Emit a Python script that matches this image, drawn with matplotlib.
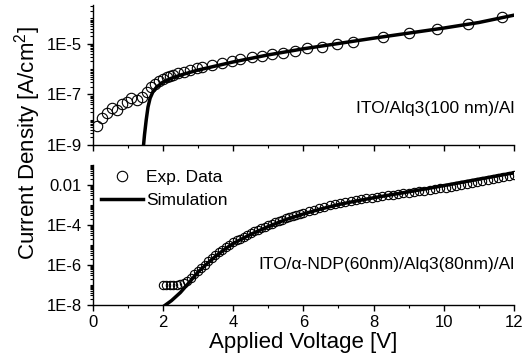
import numpy as np
import matplotlib
matplotlib.use("Agg")
import matplotlib.pyplot as plt
from matplotlib.ticker import LogLocator, NullFormatter, MultipleLocator

plt.rcParams['font.family'] = ['Liberation Sans', 'DejaVu Sans']
plt.rcParams['mathtext.fontset'] = 'custom'
plt.rcParams['mathtext.rm'] = 'Liberation Sans'

# all current densities stored as log10(J [A/cm2])

# top panel: ITO/Alq3(100 nm)/Al
top_exp_v = [0.12, 0.26, 0.40, 0.55, 0.69, 0.83, 0.97, 1.10, 1.26, 1.40,
             1.54, 1.66, 1.78, 1.90, 2.02, 2.11, 2.21, 2.30, 2.44, 2.61,
             2.78, 2.97, 3.13, 3.39, 3.68, 3.96, 4.20, 4.53, 4.82, 5.10,
             5.43, 5.77, 6.10, 6.53, 6.95, 7.43, 8.28, 9.02, 9.82, 10.70, 11.65]
top_exp_logj = [-8.25, -7.93, -7.74, -7.54, -7.62, -7.38, -7.30, -7.14, -7.22, -7.10,
                -6.91, -6.71, -6.59, -6.47, -6.39, -6.31, -6.27, -6.23, -6.15, -6.11,
                -6.04, -5.96, -5.90, -5.82, -5.75, -5.67, -5.61, -5.53, -5.47, -5.40,
                -5.35, -5.27, -5.18, -5.13, -5.00, -4.92, -4.72, -4.58, -4.43, -4.22, -3.95]
top_sim_v = [1.44, 1.48, 1.53, 1.58, 1.64, 1.72, 1.82, 2.0, 2.25, 2.5, 3.0, 3.5,
             4.0, 4.5, 5.0, 5.5, 6.0, 7.0, 8.0, 9.0, 10.0, 11.0, 12.0]
top_sim_logj = [-9.2, -8.6, -8.0, -7.5, -7.15, -6.90, -6.72, -6.52, -6.36, -6.24, -6.04, -5.88,
                -5.72, -5.58, -5.44, -5.32, -5.20, -4.99, -4.78, -4.58, -4.38, -4.16, -3.87]

# bottom panel: ITO/a-NDP(60nm)/Alq3(80nm)/Al
bot_exp_v = [2.0, 2.1, 2.2, 2.3, 2.4, 2.5, 2.6, 2.7, 2.8, 2.9,
             3.0, 3.1, 3.2, 3.3, 3.4, 3.5, 3.6, 3.7, 3.8, 3.9,
             4.0, 4.1, 4.2, 4.3, 4.4, 4.5, 4.6, 4.7, 4.8, 4.9,
             5.0, 5.1, 5.2, 5.3, 5.4, 5.5, 5.6, 5.7, 5.8, 5.9, 6.0,
             6.15, 6.3, 6.45, 6.6, 6.75, 6.9, 7.05, 7.2, 7.35, 7.5,
             7.65, 7.8, 7.95, 8.1, 8.25, 8.4, 8.55, 8.7, 8.85, 9.0,
             9.15, 9.3, 9.45, 9.6, 9.75, 9.9, 10.05, 10.2, 10.35, 10.5,
             10.65, 10.8, 10.95, 11.1, 11.25, 11.4, 11.55, 11.7, 11.85, 12.0]
bot_exp_logj = [-7.00, -7.00, -7.00, -6.99, -6.98, -6.95, -6.90, -6.80, -6.65, -6.47,
                -6.30, -6.14, -5.98, -5.82, -5.66, -5.50, -5.37, -5.24, -5.12, -4.99,
                -4.86, -4.77, -4.68, -4.58, -4.49, -4.40, -4.32, -4.24, -4.17, -4.09,
                -4.01, -3.94, -3.87, -3.80, -3.73, -3.66, -3.60, -3.55, -3.49, -3.44, -3.38,
                -3.31, -3.23, -3.16, -3.09, -3.02, -2.96, -2.90, -2.85, -2.80, -2.76,
                -2.72, -2.67, -2.63, -2.59, -2.55, -2.51, -2.48, -2.45, -2.42, -2.39,
                -2.36, -2.32, -2.28, -2.25, -2.21, -2.17, -2.13, -2.09, -2.04, -1.99,
                -1.94, -1.89, -1.85, -1.80, -1.75, -1.70, -1.65, -1.61, -1.56, -1.51]
bot_sim_v = [1.95, 2.0, 2.25, 2.5, 2.75, 3.0, 3.25, 3.5, 3.75, 4.0, 4.5, 5.0, 5.5,
             6.0, 6.5, 7.0, 7.5, 8.0, 8.5, 9.0, 9.5, 10.0, 10.5, 11.0, 11.5, 12.0]
bot_sim_logj = [-8.2, -8.10, -7.78, -7.38, -6.88, -6.36, -5.95, -5.57, -5.23, -4.93, -4.47, -4.08, -3.73,
                -3.45, -3.20, -2.98, -2.80, -2.64, -2.49, -2.34, -2.19, -2.03, -1.87, -1.71, -1.55, -1.39]

top_ticks = [1e-9, 1e-7, 1e-5]
top_labels = ["1E-9", "1E-7", "1E-5"]
bot_ticks = [1e-8, 1e-6, 1e-4, 1e-2]
bot_labels = ["1E-8", "1E-6", "1E-4", "0.01"]

fig = plt.figure(figsize=(5.31, 3.62), dpi=100)
ax1 = fig.add_axes([0.1742, 0.5994, 0.7938, 0.3867])
ax2 = fig.add_axes([0.1742, 0.1575, 0.7938, 0.3867])

ax1.plot(top_exp_v, 10 ** np.array(top_exp_logj), "o", ms=7.5, mfc="none", mec="black", mew=0.8)
ax1.plot(top_sim_v, 10 ** np.array(top_sim_logj), "-", color="black", lw=2.5)

ax2.plot(bot_exp_v, 10 ** np.array(bot_exp_logj), "o", ms=6, mfc="none", mec="black", mew=0.8,
         label="Exp. Data")
ax2.plot(bot_sim_v, 10 ** np.array(bot_sim_logj), "-", color="black", lw=2.5, label="Simulation")

for ax in (ax1, ax2):
    ax.set_yscale("log")
    ax.set_xlim(0, 12)
    ax.xaxis.set_major_locator(MultipleLocator(2))
    ax.xaxis.set_minor_locator(MultipleLocator(1))
    ax.yaxis.set_minor_locator(LogLocator(base=10, subs=np.arange(1, 10), numticks=50))
    ax.yaxis.set_minor_formatter(NullFormatter())
    ax.spines["top"].set_visible(False)
    ax.spines["right"].set_visible(False)
    ax.spines["left"].set_linewidth(1.0)
    ax.spines["bottom"].set_linewidth(1.0)
    ax.tick_params(which="major", direction="out", length=4, width=1, labelsize=12)
    ax.tick_params(which="minor", direction="out", length=2, width=0.8)

ax1.set_ylim(1e-9, 10 ** -3.47)
ax1.set_yticks(top_ticks, top_labels)
ax1.tick_params(axis="x", labelbottom=False)

ax2.set_ylim(1e-8, 1e-1)
ax2.set_yticks(bot_ticks, bot_labels)
ax2.set_xticks([0, 2, 4, 6, 8, 10, 12], ["0", "2", "4", "6", "8", "10", "12"])
ax2.set_xlabel("Applied Voltage [V]", fontsize=16, labelpad=1)

ax1.text(1.0, 0.264, "ITO/Alq3(100 nm)/Al", transform=ax1.transAxes, ha="right", va="center", fontsize=12.5)
ax2.text(1.0, 0.29, "ITO/\u03b1-NDP(60nm)/Alq3(80nm)/Al", transform=ax2.transAxes, ha="right",
         va="center", fontsize=12.5)

ax2.legend(loc="upper left", bbox_to_anchor=(0.0, 1.03), frameon=False, fontsize=12.5,
           handlelength=2.4, handletextpad=0.2, labelspacing=0.45, borderaxespad=0.1,
           markerscale=1.25)

fig.text(0.051, 0.605, "Current Density [A/cm$^2$]", rotation=90, ha="center", va="center", fontsize=16)

fig.savefig("out.png", dpi=100)
